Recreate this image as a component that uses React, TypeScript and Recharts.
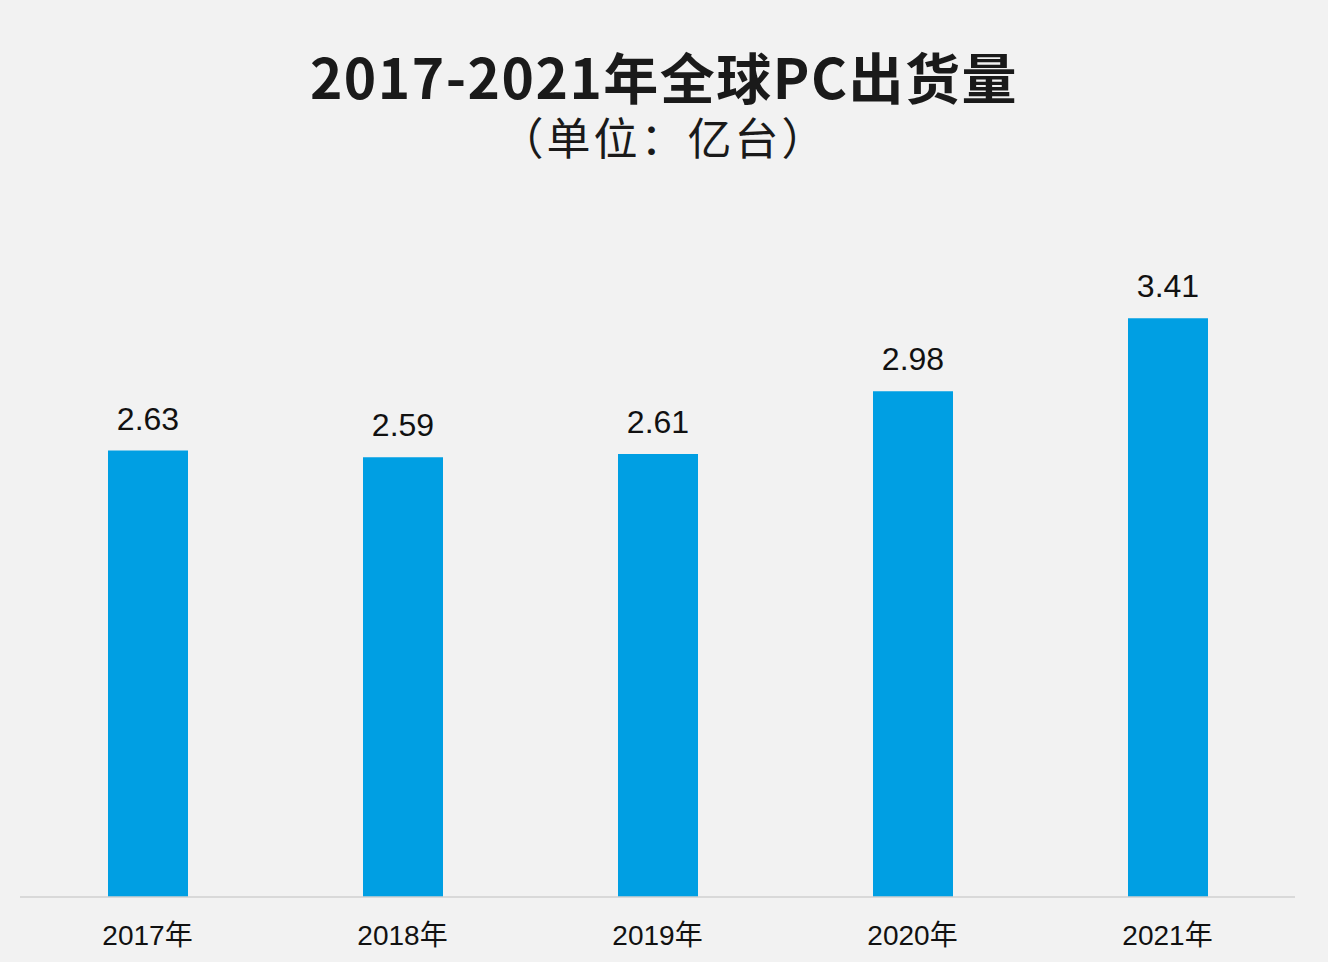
import React from "react";
import { BarChart, Bar, XAxis, YAxis, LabelList } from "recharts";

const categories = ["2017年", "2018年", "2019年", "2020年", "2021年"];
const shipments = [2.63, 2.59, 2.61, 2.98, 3.41];
const valueLabels = ["2.63", "2.59", "2.61", "2.98", "3.41"];

const data = categories.map((c, i) => ({ year: c, value: shipments[i], label: valueLabels[i] }));

const Tick = (props: any) => {
  const { x, y, payload } = props;
  return (
    <text
      x={x}
      y={y + 30}
      textAnchor="middle"
      dominantBaseline="central"
      fontSize={28}
      fill="#111"
      fontFamily="'Liberation Sans', 'Noto Sans CJK SC', sans-serif"
    >
      {payload.value}
    </text>
  );
};

export default function App() {
  return (
    <div
      style={{
        position: "absolute",
        left: 0,
        top: 0,
        width: 1328,
        height: 962,
        background: "#f2f2f2",
        overflow: "hidden",
      }}
    >
      <div
        style={{
          position: "absolute",
          top: 43,
          left: 0,
          width: 1328,
          textAlign: "center",
          fontFamily: "'Noto Sans CJK SC', sans-serif",
          fontWeight: 700,
          fontSize: 55,
          lineHeight: "64px",
          color: "#1a1a1a",
          letterSpacing: 1.5,
        }}
      >
        2017-2021年全球PC出货量
      </div>
      <div
        style={{
          position: "absolute",
          top: 112,
          left: 0,
          width: 1328,
          textAlign: "center",
          fontFamily: "'Noto Sans CJK SC', sans-serif",
          fontWeight: 400,
          fontSize: 44,
          lineHeight: "48px",
          color: "#1a1a1a",
          letterSpacing: 3,
        }}
      >
        （单位：亿台）
      </div>
      <BarChart
        width={1328}
        height={962}
        data={data}
        margin={{ top: 218, right: 33, left: 20, bottom: 0 }}
        barCategoryGap={87}
      >
        <XAxis
          dataKey="year"
          axisLine={{ stroke: "#d0d0d0", strokeWidth: 1.5 }}
          tickLine={false}
          tick={<Tick />}
          interval={0}
          height={65}
        />
        <YAxis hide domain={[0, 4]} />
        <Bar dataKey="value" fill="#009fe3" isAnimationActive={false} barSize={80}>
          <LabelList
            dataKey="label"
            position="top"
            offset={21}
            fontSize={32}
            fill="#111"
            fontFamily="'Liberation Sans', sans-serif"
          />
        </Bar>
      </BarChart>
    </div>
  );
}
